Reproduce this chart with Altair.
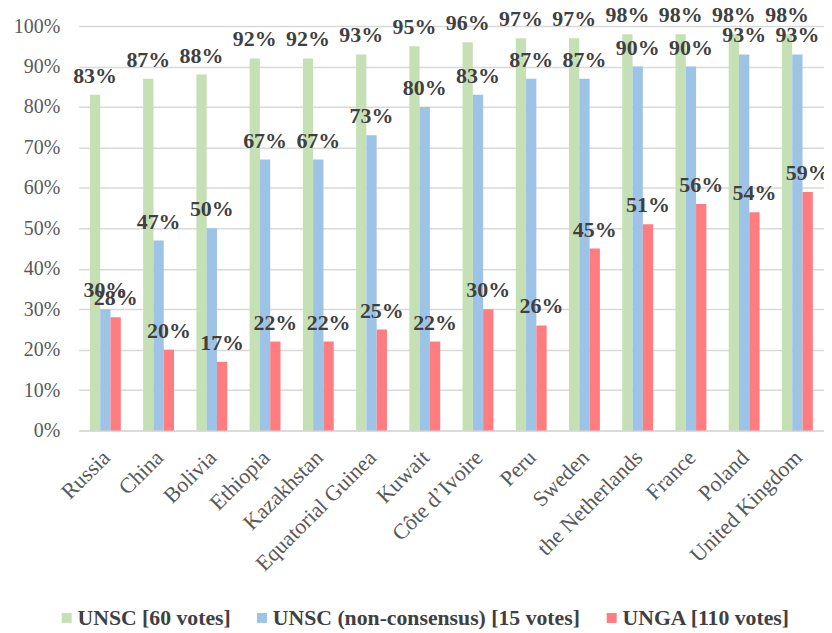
import altair as alt
import pandas as pd

countries = ["Russia", "China", "Bolivia", "Ethiopia", "Kazakhstan", "Equatorial Guinea",
             "Kuwait", "Côte d’Ivoire", "Peru", "Sweden", "the Netherlands", "France",
             "Poland", "United Kingdom"]
unsc = [83, 87, 88, 92, 92, 93, 95, 96, 97, 97, 98, 98, 98, 98]
unsc_nc = [30, 47, 50, 67, 67, 73, 80, 83, 87, 87, 90, 90, 93, 93]
unga = [28, 20, 17, 22, 22, 25, 22, 30, 26, 45, 51, 56, 54, 59]
series = ["UNSC [60 votes]", "UNSC (non-consensus) [15 votes]", "UNGA [110 votes]"]
colors = ["#c5e0b4", "#9dc3e6", "#ff7c80"]
y_ticks = [0, 0.1, 0.2, 0.3, 0.4, 0.5, 0.6, 0.7, 0.8, 0.9, 1.0]

rows = []
for s, vals in zip(series, [unsc, unsc_nc, unga]):
    for c, v in zip(countries, vals):
        rows.append({"country": c, "series": s, "value": v / 100})
df = pd.DataFrame(rows)

SERIF = "Liberation Serif"

base = alt.Chart(df).encode(
    x=alt.X("country:N", sort=countries,
            scale=alt.Scale(paddingInner=0.42, paddingOuter=0.21),
            axis=alt.Axis(title=None, labelAngle=-45, labelFont=SERIF, labelFontSize=22,
                          labelColor="#595959", ticks=False, domainColor="#d9d9d9",
                          domainWidth=1.5, labelPadding=16, labelOffset=-6,
                          labelAlign="right", labelBaseline="top", labelLimit=300)),
    xOffset=alt.XOffset("series:N", sort=series,
                        scale=alt.Scale(paddingInner=0, paddingOuter=0)),
)

bars = base.mark_bar().encode(
    y=alt.Y("value:Q", scale=alt.Scale(domain=[0, 1], nice=False),
            axis=alt.Axis(title=None, format=".0%", values=y_ticks, ticks=False,
                          domain=False, labelFont=SERIF, labelFontSize=20,
                          labelColor="#595959", labelPadding=19,
                          gridColor="#d9d9d9", gridWidth=1.5)),
    color=alt.Color("series:N", sort=series,
                    scale=alt.Scale(domain=series, range=colors),
                    legend=alt.Legend(orient="none", direction="horizontal", columns=3,
                                      legendX=-23, legendY=583, title=None, padding=0,
                                      symbolType="square", symbolSize=100,
                                      symbolStrokeWidth=0, labelFont=SERIF,
                                      labelFontWeight="bold", labelFontSize=21.8,
                                      labelColor="#404040", columnPadding=20,
                                      labelOffset=0, labelLimit=400)),
)

text = base.mark_text(dy=-12, baseline="alphabetic", font=SERIF, fontWeight="bold",
                      fontSize=22, color="#404040").encode(
    y=alt.Y("value:Q"),
    text=alt.Text("value:Q", format=".0%"),
)

chart = (bars + text).properties(
    width=748, height=406,
    autosize=alt.AutoSizeParams(type="none"),
    padding={"left": 71, "top": 17, "right": 0, "bottom": 200},
).configure_view(stroke=None)

chart.save("out.html", embed_options={"renderer": "svg", "actions": False})
